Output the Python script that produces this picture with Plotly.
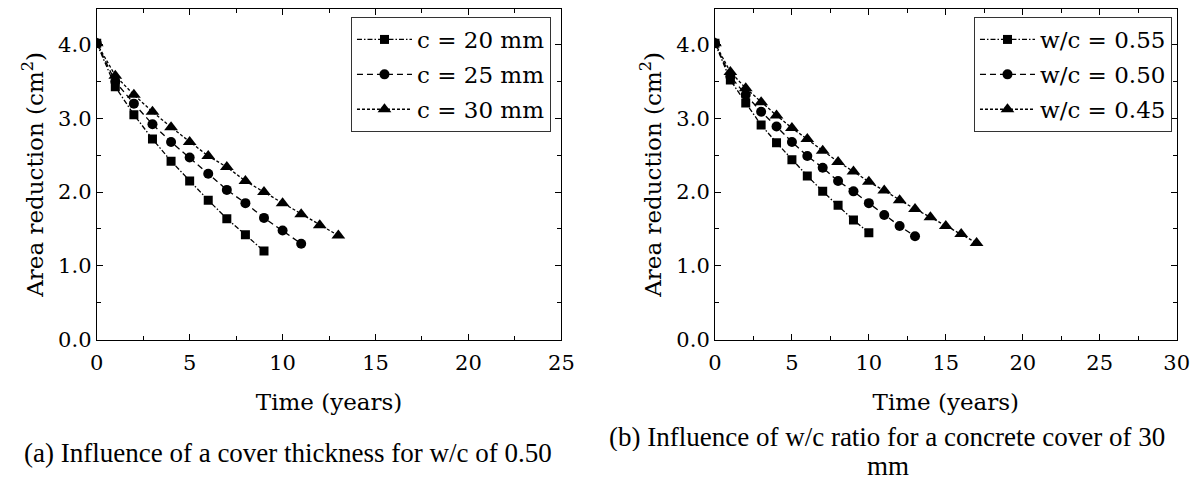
import plotly.graph_objects as go

# ---- data ----
t_a20 = list(range(0, 10))
a_c20 = [4.02, 3.43, 3.05, 2.72, 2.42, 2.15, 1.89, 1.64, 1.42, 1.20]
t_a25 = list(range(0, 12))
a_c25 = [4.02, 3.50, 3.20, 2.92, 2.68, 2.47, 2.25, 2.03, 1.85, 1.65, 1.48, 1.30]
t_a30 = list(range(0, 14))
a_c30 = [4.02, 3.58, 3.32, 3.09, 2.88, 2.68, 2.49, 2.34, 2.15, 2.00, 1.85, 1.70, 1.55, 1.41]

t_b55 = list(range(0, 11))
b_w55 = [4.02, 3.52, 3.21, 2.91, 2.67, 2.44, 2.22, 2.01, 1.82, 1.62, 1.45]
t_b50 = list(range(0, 14))
b_w50 = [4.02, 3.57, 3.32, 3.09, 2.89, 2.68, 2.49, 2.33, 2.15, 2.01, 1.85, 1.69, 1.54, 1.40]
t_b45 = list(range(0, 18))
b_w45 = [4.02, 3.63, 3.41, 3.22, 3.04, 2.87, 2.72, 2.56, 2.41, 2.28, 2.14, 2.02, 1.89,
         1.77, 1.66, 1.54, 1.43, 1.31]

names_a = ["c = 20 mm", "c = 25 mm", "c = 30 mm"]
names_b = ["w/c = 0.55", "w/c = 0.50", "w/c = 0.45"]
caption_a = "(a) Influence of a cover thickness for w/c of 0.50"
caption_b1 = "(b) Influence of w/c ratio for a concrete cover of 30"
caption_b2 = "mm"

FONT = "DejaVu Serif"
CAPFONT = "Liberation Serif"
symbols = ["square", "circle", "triangle-up"]
msizes = [9, 10, 12]
dashes = ["5px,2px,1.5px,2px", "6px,4px", "3px,2px"]

fig = go.Figure()

series_a = [(t_a20, a_c20), (t_a25, a_c25), (t_a30, a_c30)]
series_b = [(t_b55, b_w55), (t_b50, b_w50), (t_b45, b_w45)]

for i, (t, a) in enumerate(series_a):
    fig.add_trace(go.Scatter(
        x=t, y=a, name=names_a[i], mode="lines+markers",
        line=dict(color="black", width=1.3, dash=dashes[i]),
        marker=dict(symbol=symbols[i], size=msizes[i], color="black"),
        xaxis="x", yaxis="y", legend="legend", legendgroup="a%d" % i,
    ))
for i, (t, a) in enumerate(series_b):
    fig.add_trace(go.Scatter(
        x=t, y=a, name=names_b[i], mode="lines+markers",
        line=dict(color="black", width=1.3, dash=dashes[i]),
        marker=dict(symbol=symbols[i], size=msizes[i], color="black"),
        xaxis="x2", yaxis="y2", legend="legend2", legendgroup="b%d" % i,
    ))

axis_common = dict(
    showline=True, linecolor="black", linewidth=1, mirror="ticks",
    ticks="inside", ticklen=6, tickwidth=1, tickcolor="black",
    showgrid=False, zeroline=False, automargin=False,
    tickfont=dict(family=FONT, size=21, color="black"),
)
ydom = [0.2927, 0.9806]
title_font = dict(family=FONT, size=23, color="black")

fig.update_layout(
    width=1197, height=480,
    margin=dict(l=0, r=0, t=0, b=0),
    paper_bgcolor="white", plot_bgcolor="white",
    font=dict(family=FONT, color="black"),
    xaxis=dict(domain=[0.0808, 0.4690], range=[0, 25], dtick=5, tick0=0,
               minor=dict(ticks="inside", dtick=2.5, ticklen=4, tickcolor="black"),
               title=dict(text="Time (years)", font=title_font, standoff=20),
               ticklabelstandoff=4,
               **axis_common),
    yaxis=dict(domain=ydom, range=[0, 4.48], dtick=1, tick0=0, tickformat=".1f",
               minor=dict(ticks="inside", dtick=0.5, ticklen=4, tickcolor="black"),
               title=dict(text="Area reduction (cm<sup>2</sup>)", font=title_font, standoff=8),
               anchor="x", **axis_common),
    xaxis2=dict(domain=[0.5973, 0.9830], range=[0, 30], dtick=5, tick0=0,
                minor=dict(ticks="inside", dtick=2.5, ticklen=4, tickcolor="black"),
                title=dict(text="Time (years)", font=title_font, standoff=20),
                ticklabelstandoff=4,
                anchor="y2", **axis_common),
    yaxis2=dict(domain=ydom, range=[0, 4.48], dtick=1, tick0=0, tickformat=".1f",
                minor=dict(ticks="inside", dtick=0.5, ticklen=4, tickcolor="black"),
                title=dict(text="Area reduction (cm<sup>2</sup>)", font=title_font, standoff=8),
                anchor="x2", **axis_common),
    legend=dict(x=0.4603, y=0.9646, xanchor="right", yanchor="top",
                bgcolor="white", bordercolor="#333", borderwidth=1,
                font=dict(family=FONT, size=23, color="black"),
                itemwidth=55,
                traceorder="grouped", tracegroupgap=2),
    legend2=dict(x=0.9791, y=0.9646, xanchor="right", yanchor="top",
                 bgcolor="white", bordercolor="#333", borderwidth=1,
                 font=dict(family=FONT, size=23, color="black"),
                 itemwidth=55,
                 traceorder="grouped", tracegroupgap=2),
    showlegend=True,
)

fig.add_annotation(text=caption_a, x=288 / 1197, y=1 - 453 / 480, xref="paper", yref="paper",
                   showarrow=False, xanchor="center", yanchor="middle",
                   font=dict(family=CAPFONT, size=27, color="black"))
fig.add_annotation(text=caption_b1, x=887 / 1197, y=1 - 437 / 480, xref="paper", yref="paper",
                   showarrow=False, xanchor="center", yanchor="middle", height=28,
                   font=dict(family=CAPFONT, size=27, color="black"))
fig.add_annotation(text=caption_b2, x=888 / 1197, y=1 - 466 / 480, xref="paper", yref="paper",
                   showarrow=False, xanchor="center", yanchor="middle", height=26,
                   font=dict(family=CAPFONT, size=27, color="black"))

fig.write_html("out.html", config={"displayModeBar": False},
               post_script="document.body.style.margin='0';document.body.style.overflow='hidden';")
